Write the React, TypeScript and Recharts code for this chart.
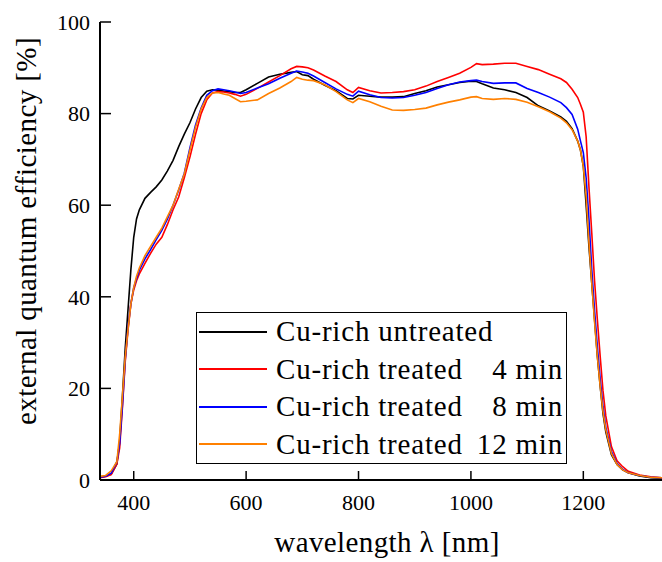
import { LineChart, Line, XAxis, YAxis, Legend } from "recharts";

const FONT = "'Liberation Serif', 'Times New Roman', serif";

// wavelength grid in nm
const wavelength = [
  340, 350, 360, 370, 375, 380, 385, 390, 395, 400, 405, 410, 420, 430, 440, 450, 460, 470, 480, 490,
  500, 510, 520, 530, 540, 550, 560, 570, 580, 590, 600, 620, 640, 660, 680, 690, 700, 710, 720, 740,
  760, 780, 790, 800, 820, 840, 860, 880, 900, 920, 940, 960, 980, 1000, 1010, 1020, 1040, 1060, 1080, 1100,
  1120, 1140, 1160, 1170, 1180, 1190, 1195, 1200, 1205, 1210, 1215, 1220, 1225, 1230, 1235, 1240, 1250, 1260, 1270, 1280,
  1300, 1320, 1340,
];

const untreated = [
  0.7, 0.8, 1.3, 3.5, 8.5, 18.5, 29, 37.5, 46, 53, 57, 59, 61.5, 62.8, 64, 65.5, 67.5, 69.8, 72.8, 75.5,
  78, 81, 83.5, 84.9, 85.2, 85.1, 84.9, 84.8, 84.6, 84.6, 85.2, 86.6, 88, 88.6, 89, 89.2, 88.5, 88.3, 87.5, 86.2,
  85, 83.3, 83.2, 84, 83.8, 83.6, 83.6, 83.7, 84.4, 85, 85.8, 86.3, 86.8, 87.1, 87, 86.5, 85.6, 85.2, 84.6, 83.5,
  81.7, 80.6, 79.3, 78.3, 76.7, 74, 72, 68.5, 60, 51, 43, 35, 27, 20.5, 14.5, 10.5, 5.5, 3.4, 2.2, 1.6,
  0.9, 0.5, 0.4,
];

const treated4 = [
  0.5, 0.7, 1.2, 3.5, 7, 16, 26, 33, 38.5, 41.5, 43.5, 45, 47.3, 49.5, 51.5, 53, 55.8, 59, 61.8, 66,
  70.5, 75.5, 80, 83, 84.5, 84.8, 84.7, 84.5, 84.2, 83.8, 84.2, 85.5, 86.9, 88.3, 89.8, 90.3, 90.2, 90, 89.5, 88.2,
  87, 85.2, 84.6, 85.7, 85, 84.5, 84.6, 84.8, 85.2, 86, 87, 87.9, 88.8, 90.1, 90.9, 90.7, 90.8, 91, 91, 90.3,
  89.6, 88.6, 87.6, 86.8, 85.3, 83.5, 82, 80.3, 75, 64, 54, 43.5, 35, 27, 19.5, 14, 7.3, 4.2, 2.9, 1.9,
  1.1, 0.7, 0.5,
];

const treated8 = [
  0.6, 0.8, 1.5, 4, 8, 16.5, 26.5, 33.5, 38.5, 42, 44, 45.8, 48.3, 50.3, 52.5, 54.5, 57, 60, 63.3, 67,
  72.5, 77.5, 81.2, 84, 85, 85.4, 85.2, 85, 84.7, 84.4, 84.6, 85.6, 86.5, 87.7, 88.8, 89.3, 89.1, 88.8, 88.2, 86.8,
  85.4, 84.2, 83.8, 84.9, 84.1, 83.5, 83.4, 83.5, 84, 84.6, 85.5, 86.3, 86.9, 87.2, 87.3, 87, 86.6, 86.7, 86.7, 85.5,
  84.6, 83.6, 82.4, 81.3, 79.8, 76.6, 74, 71.5, 66, 57, 46, 37, 29, 22, 16, 11.5, 6.2, 3.6, 2.3, 1.6,
  1, 0.6, 0.5,
];

const treated12 = [
  0.8, 1, 2, 4, 10, 18.5, 27, 33, 38.5, 42, 44.5, 46.3, 49, 51, 53, 55, 57.5, 60, 63.5, 66.8,
  72, 77, 81, 83.5, 84.5, 84.6, 84.3, 84, 83.3, 82.6, 82.7, 83, 84.4, 85.6, 87, 87.9, 87.5, 87.3, 87.2, 86.3,
  84.8, 83, 82.4, 83.3, 82.6, 81.6, 80.8, 80.7, 80.9, 81.2, 81.9, 82.5, 83, 83.6, 83.7, 83.3, 83.1, 83.3, 83.1, 82.5,
  81.5, 80.4, 79, 78, 76.5, 74, 72, 68.5, 62, 52, 43, 34.5, 27, 20.5, 15, 11, 5.8, 3.4, 2.2, 1.6,
  1, 0.6, 0.5,
];

const xMajorTicks = [400, 600, 800, 1000, 1200];
const xMinorTicks = [500, 700, 900, 1100, 1300];
const xTopTicks = [400, 500, 600, 700, 800, 900, 1000, 1100, 1200, 1300];
const yMajorTicks = [0, 20, 40, 60, 80, 100];
const yMinorTicks = [10, 30, 50, 70, 90];

const series = [
  { key: "untreated", label: "Cu-rich untreated", time: "", color: "#000000" },
  { key: "t4", label: "Cu-rich treated", time: "4 min", color: "#ff0000" },
  { key: "t8", label: "Cu-rich treated", time: "8 min", color: "#0000ff" },
  { key: "t12", label: "Cu-rich treated", time: "12 min", color: "#ff8000" },
];

const data = wavelength.map((wl, i) => ({
  wl,
  untreated: untreated[i],
  t4: treated4[i],
  t8: treated8[i],
  t12: treated12[i],
}));

const xDomain = [340, 1340];
const yDomain = [0, 100];
const tickStroke = { stroke: "#000", strokeWidth: 1.5 };
const blank = () => "";

const EqeLegend = () => (
  <div
    style={{
      border: "1px solid #000",
      background: "#fff",
      width: 371,
      height: 152,
      boxSizing: "border-box",
      fontFamily: FONT,
      fontSize: 29,
      letterSpacing: 0.8,
      color: "#000",
    }}
  >
    {series.map((s) => (
      <div key={s.key} style={{ display: "flex", alignItems: "center", height: 37.5 }}>
        <span style={{ width: 68, marginLeft: 2, borderTop: `2px solid ${s.color}` }} />
        <span style={{ marginLeft: 9, flex: 1, whiteSpace: "nowrap" }}>{s.label}</span>
        <span style={{ marginRight: 3, whiteSpace: "nowrap" }}>{s.time}</span>
      </div>
    ))}
  </div>
);

const XTitle = (props: any) => {
  const vb = props.viewBox;
  return (
    <text
      x={vb.x + vb.width / 2 + 6}
      y={vb.y + vb.height - 10}
      textAnchor="middle"
      fontFamily={FONT}
      fontSize={29}
      letterSpacing={0.4}
      fill="#000"
    >
      wavelength λ [nm]
    </text>
  );
};

const YTitle = (props: any) => {
  const vb = props.viewBox;
  const x = vb.x + 36;
  const y = vb.y + vb.height / 2 - 20;
  return (
    <text
      x={x}
      y={y}
      transform={`rotate(-90 ${x} ${y})`}
      textAnchor="middle"
      fontFamily={FONT}
      fontSize={29}
      letterSpacing={0.4}
      fill="#000"
    >
      external quantum efficiency [%]
    </text>
  );
};

export default function App() {
  return (
    <div style={{ position: "absolute", left: 0, top: 0, width: 662, height: 562, background: "#fff" }}>
      <LineChart width={662} height={562} data={data} margin={{ top: 22, right: 0, bottom: 0, left: 0 }}>
        {/* minor ticks first so they sit on the frame */}
        <XAxis
          xAxisId="xMinor"
          dataKey="wl"
          type="number"
          domain={xDomain}
          allowDataOverflow
          ticks={xMinorTicks}
          interval={0}
          height={0}
          tickSize={-5}
          tickFormatter={blank}
          axisLine={false}
          tickLine={tickStroke}
        />
        <XAxis
          xAxisId="x"
          dataKey="wl"
          type="number"
          domain={xDomain}
          allowDataOverflow
          ticks={xMajorTicks}
          interval={0}
          height={82}
          tickSize={-9}
          tickMargin={23}
          axisLine={{ stroke: "#000", strokeWidth: 2 }}
          tickLine={tickStroke}
          tick={{ fill: "#000", fontSize: 22, fontFamily: FONT }}
          label={{ content: <XTitle /> }}
        />
        <XAxis
          xAxisId="top"
          orientation="top"
          dataKey="wl"
          type="number"
          domain={xDomain}
          allowDataOverflow
          ticks={xTopTicks}
          interval={0}
          height={0}
          tickSize={-10}
          tickFormatter={blank}
          axisLine={{ stroke: "#000", strokeWidth: 2 }}
          tickLine={tickStroke}
        />
        <YAxis
          yAxisId="yMinor"
          type="number"
          domain={yDomain}
          allowDataOverflow
          ticks={yMinorTicks}
          interval={0}
          width={0}
          tickSize={-6}
          tickFormatter={blank}
          axisLine={false}
          tickLine={tickStroke}
        />
        <YAxis
          yAxisId="y"
          type="number"
          domain={yDomain}
          allowDataOverflow
          ticks={yMajorTicks}
          interval={0}
          width={100}
          tickSize={-11}
          tickMargin={21}
          axisLine={{ stroke: "#000", strokeWidth: 2 }}
          tickLine={tickStroke}
          tick={{ fill: "#000", fontSize: 22, fontFamily: FONT }}
          label={{ content: <YTitle /> }}
        />
        <YAxis
          yAxisId="right"
          orientation="right"
          type="number"
          domain={yDomain}
          allowDataOverflow
          ticks={yMajorTicks}
          interval={0}
          width={0}
          tickSize={-4}
          tickFormatter={blank}
          axisLine={{ stroke: "#000", strokeWidth: 2 }}
          tickLine={tickStroke}
        />
        <Legend
          layout="vertical"
          align="center"
          verticalAlign="middle"
          wrapperStyle={{ left: 196, top: 312, width: 371, height: 152 }}
          content={<EqeLegend />}
        />
        {series.map((s) => (
          <Line
            key={s.key}
            xAxisId="x"
            yAxisId="y"
            type="linear"
            dataKey={s.key}
            stroke={s.color}
            strokeWidth={1.6}
            dot={false}
            activeDot={false}
            isAnimationActive={false}
          />
        ))}
      </LineChart>
    </div>
  );
}
